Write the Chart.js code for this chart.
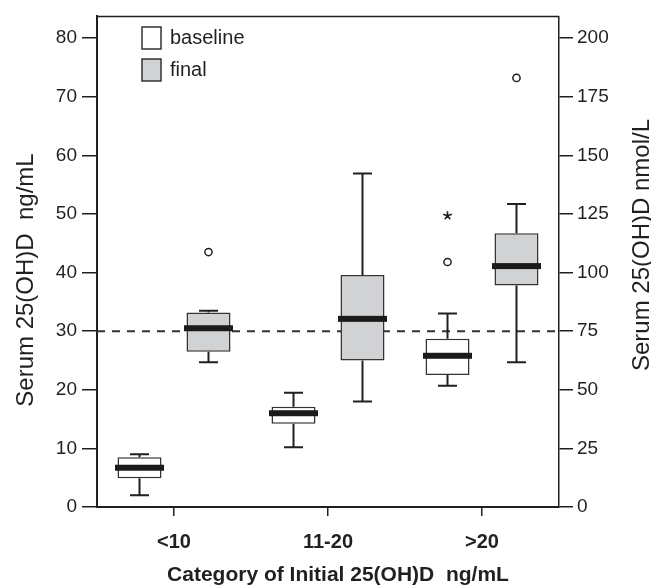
<!DOCTYPE html>
<html><head><meta charset="utf-8">
<script src="https://cdn.jsdelivr.net/npm/chart.js@4"></script>
<style>html,body{margin:0;padding:0;background:#fff}</style>
</head><body>
<canvas id="c" width="651" height="588"></canvas>
<script>
const categories = ['<10', '11-20', '>20'];
const seriesNames = ['baseline', 'final'];
const baselineMin    = [2.0, 10.2, 20.7];
const baselineQ1     = [4.9, 14.2, 22.5];
const baselineMedian = [6.7, 16.0, 25.8];
const baselineQ3     = [8.5, 17.1, 28.7];
const baselineMax    = [9.0, 19.5, 33.0];
const baselineOutliers = [[], [], [41.8]];
const baselineExtremes = [[], [], [49.7]];
const finalMin    = [24.7, 18.0, 24.7];
const finalQ1     = [26.5, 25.0, 37.8];
const finalMedian = [30.5, 32.1, 41.1];
const finalQ3     = [33.2, 39.6, 46.7];
const finalMax    = [33.5, 56.9, 51.7];
const finalOutliers = [[43.5], [], [73.2]];
const finalExtremes = [[], [], []];
const leftTicks  = [0, 10, 20, 30, 40, 50, 60, 70, 80];
const rightTicks = [0, 25, 50, 75, 100, 125, 150, 175, 200];
const referenceLine = 30;
const yMax = 83.7;
const nmolPerNg = 2.5;
const xTitle = 'Category of Initial 25(OH)D  ng/mL';
const yTitleLeft = 'Serum 25(OH)D  ng/mL';
const yTitleRight = 'Serum 25(OH)D nmol/L';

const INK = '#231f20';
const FONT = "'Liberation Sans', Arial, sans-serif";

function stats(mn, q1, md, q3, mx, out, ext) {
  return {min: mn, q1: q1, med: md, q3: q3, max: mx, out: out, ext: ext};
}

const boxParts = {
  id: 'boxParts',
  beforeDatasetsDraw(chart) {
    const {ctx, chartArea: a, scales: {y}} = chart;
    ctx.save();
    ctx.strokeStyle = '#333';
    ctx.lineWidth = 2;
    ctx.setLineDash([8, 7]);
    const yy = y.getPixelForValue(referenceLine);
    ctx.beginPath(); ctx.moveTo(a.left, yy); ctx.lineTo(a.right, yy); ctx.stroke();
    ctx.restore();
    chart.data.datasets.forEach((ds, i) => {
      const meta = chart.getDatasetMeta(i);
      meta.data.forEach((bar, j) => {
        const s = ds.stats, x = bar.x;
        const pMin = y.getPixelForValue(s.min[j]), pQ1 = y.getPixelForValue(s.q1[j]);
        const pQ3 = y.getPixelForValue(s.q3[j]), pMax = y.getPixelForValue(s.max[j]);
        ctx.save();
        ctx.strokeStyle = INK; ctx.lineWidth = 2;
        ctx.beginPath();
        ctx.moveTo(x, pQ3); ctx.lineTo(x, pMax);
        ctx.moveTo(x, pQ1); ctx.lineTo(x, pMin);
        ctx.moveTo(x - 9.5, pMax); ctx.lineTo(x + 9.5, pMax);
        ctx.moveTo(x - 9.5, pMin); ctx.lineTo(x + 9.5, pMin);
        ctx.stroke();
        ctx.restore();
      });
    });
  },
  afterDatasetsDraw(chart) {
    const {ctx, chartArea: a, scales: {y}} = chart;
    chart.data.datasets.forEach((ds, i) => {
      const meta = chart.getDatasetMeta(i);
      meta.data.forEach((bar, j) => {
        const s = ds.stats, x = bar.x, w = bar.width + 5;
        const pMed = y.getPixelForValue(s.med[j]);
        ctx.save();
        ctx.fillStyle = '#1c1a1b';
        ctx.fillRect(x - w / 2, pMed - 3, w, 6);
        ctx.strokeStyle = INK; ctx.lineWidth = 1.5;
        s.out[j].forEach(v => {
          ctx.beginPath(); ctx.arc(x, y.getPixelForValue(v), 3.6, 0, Math.PI * 2); ctx.stroke();
        });
        s.ext[j].forEach(v => {
          const py = y.getPixelForValue(v);
          ctx.lineWidth = 1.6;
          ctx.beginPath();
          for (let k = 0; k < 5; k++) {
            const ang = -Math.PI / 2 + k * 2 * Math.PI / 5;
            ctx.moveTo(x, py); ctx.lineTo(x + 4.5 * Math.cos(ang), py + 4.5 * Math.sin(ang));
          }
          ctx.stroke();
        });
        ctx.restore();
      });
    });
    // frame top
    ctx.save();
    ctx.strokeStyle = INK; ctx.lineWidth = 1.5;
    ctx.beginPath(); ctx.moveTo(a.left, a.top); ctx.lineTo(a.right, a.top); ctx.stroke();
    // legend
    chart.data.datasets.forEach((ds, i) => {
      const bx = 142, by = 27 + i * 32;
      ctx.fillStyle = ds.backgroundColor; ctx.fillRect(bx, by, 19, 22);
      ctx.strokeStyle = '#333'; ctx.lineWidth = 1.5; ctx.strokeRect(bx, by, 19, 22);
      ctx.fillStyle = INK; ctx.font = '20px ' + FONT;
      ctx.textAlign = 'left'; ctx.textBaseline = 'middle';
      ctx.fillText(ds.label, 170, by + 11);
    });
    ctx.restore();
  },
  afterDraw(chart) {
    const {ctx} = chart;
    ctx.save();
    ctx.fillStyle = INK;
    ctx.textAlign = 'center'; ctx.textBaseline = 'alphabetic';
    ctx.font = '24px ' + FONT;
    ctx.save(); ctx.translate(33, 280); ctx.rotate(-Math.PI / 2); ctx.fillText(yTitleLeft, 0, 0); ctx.restore();
    ctx.save(); ctx.translate(649, 245); ctx.rotate(-Math.PI / 2); ctx.fillText(yTitleRight, 0, 0); ctx.restore();
    ctx.font = 'bold 21px ' + FONT; ctx.textBaseline = 'middle';
    ctx.fillText(xTitle, 338, 575);
    ctx.restore();
  }
};

new Chart(document.getElementById('c'), {
  type: 'bar',
  data: {
    labels: categories,
    datasets: [
      {
        label: seriesNames[0],
        data: baselineQ1.map((v, i) => [v, baselineQ3[i]]),
        stats: stats(baselineMin, baselineQ1, baselineMedian, baselineQ3, baselineMax, baselineOutliers, baselineExtremes),
        backgroundColor: '#ffffff', borderColor: '#333', borderWidth: 1.5, borderSkipped: false,
        categoryPercentage: 0.896, barPercentage: 0.638
      },
      {
        label: seriesNames[1],
        data: finalQ1.map((v, i) => [v, finalQ3[i]]),
        stats: stats(finalMin, finalQ1, finalMedian, finalQ3, finalMax, finalOutliers, finalExtremes),
        backgroundColor: '#d1d2d4', borderColor: '#333', borderWidth: 1.5, borderSkipped: false,
        categoryPercentage: 0.896, barPercentage: 0.638
      }
    ]
  },
  options: {
    responsive: false, animation: false,
    layout: {padding: {top: 14, left: 0, right: 0, bottom: 0}},
    plugins: {legend: {display: false}, tooltip: {enabled: false}},
    scales: {
      x: {
        grid: {offset: false, drawOnChartArea: false, tickLength: 9, color: INK, lineWidth: 1.5},
        border: {display: true, color: INK, width: 2},
        ticks: {color: INK, font: {family: FONT, size: 20, weight: 'bold'}, padding: 14, maxRotation: 0},
        afterFit: s => { s.height = 81; }
      },
      y: {
        position: 'left', min: 0, max: yMax,
        afterBuildTicks: s => { s.ticks = leftTicks.map(v => ({value: v})); },
        grid: {drawOnChartArea: false, tickLength: 15, color: INK, lineWidth: 1.5},
        border: {display: true, color: INK, width: 2},
        ticks: {color: INK, font: {family: FONT, size: 19}, padding: 5},
        afterFit: s => { s.width = 97; }
      },
      y2: {
        position: 'right', min: 0, max: yMax * nmolPerNg,
        afterBuildTicks: s => { s.ticks = rightTicks.map(v => ({value: v})); },
        grid: {drawOnChartArea: false, tickLength: 14, color: INK, lineWidth: 1.5},
        border: {display: true, color: INK, width: 1.5},
        ticks: {color: INK, font: {family: FONT, size: 19}, padding: 4},
        afterFit: s => { s.width = 92; }
      }
    }
  },
  plugins: [boxParts]
});
</script>
</body></html>
